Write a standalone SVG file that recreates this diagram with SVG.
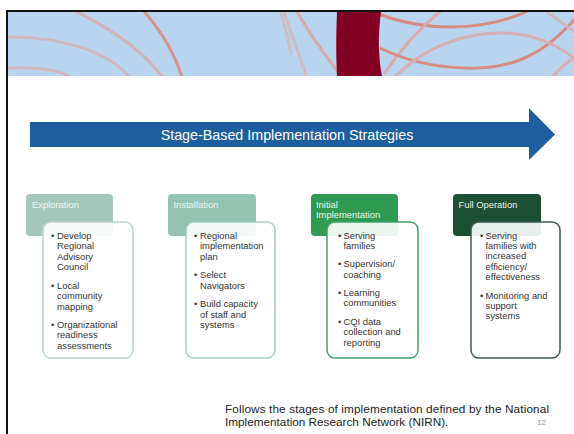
<svg xmlns="http://www.w3.org/2000/svg" width="574" height="434" viewBox="0 0 574 434">
<style>
.hdr{font-family:"Liberation Sans",Arial,sans-serif;font-size:9.4px;fill:#eef5f1}
.body{font-family:"Liberation Sans",Arial,sans-serif;font-size:9.4px;fill:#333}
.box{fill:#fff;fill-opacity:0.9;stroke-width:1.5}
.arc{fill:none;stroke-width:3}
.foot{font-family:"Liberation Sans",Arial,sans-serif;font-size:11.75px;fill:#222}
</style>
<rect width="574" height="434" fill="#fff"/>
<g id="banner">
<rect x="8" y="12" width="566" height="64" fill="#b9d4ee"/>
<clipPath id="bc"><rect x="8" y="12" width="566" height="64"/></clipPath>
<g clip-path="url(#bc)">
<path class="arc" stroke="#cdb8c0" d="M8,37 C60,36 110,52 130,78"/>
<path class="arc" stroke="#cdb8c0" d="M8,68 C40,67 60,70 72,78"/>
<path class="arc" stroke="#d0b2b8" d="M73,10 C110,28 145,52 163,78"/>
<path class="arc" stroke="#d4928e" d="M143,10 C160,30 175,52 182,78"/>
<path class="arc" stroke="#cdbcc4" d="M280,10 C286,30 290,45 291,55"/>
<path class="arc" stroke="#cdbcc4" d="M284,12 C292,35 300,58 307,78"/>
<path class="arc" stroke="#d6a8aa" d="M296,10 C310,35 325,55 338,72"/>
<path class="arc" stroke="#d88a80" d="M378,14 C420,30 480,34 530,10"/>
<path class="arc" stroke="#d8aaad" d="M384,74 C400,50 420,28 442,10"/>
<path class="arc" stroke="#d88a80" d="M380,48 C420,68 480,75 520,60 C545,50 560,35 576,18"/>
<path class="arc" stroke="#d6b0b4" d="M394,78 C420,50 460,33 500,33 C530,33 555,42 576,60"/>
<path class="arc" stroke="#cdb8c0" d="M545,10 C555,18 565,25 576,33"/>
<path class="arc" stroke="#d6b0b4" d="M551,78 C558,70 566,63 576,56"/>
</g>
<path d="M337,12 L381,12 C378,35 378,55 382,76 L337,76 C336,55 336,35 337,12 Z" fill="#820024"/>
</g>
<g id="frame" fill="#111">
<rect x="6" y="10" width="568" height="2"/>
<rect x="6" y="10" width="2" height="424"/>
</g>
<g id="arrow">
<path d="M30,122 L529,122 L529,108 L555,134.5 L529,160 L529,147 L30,147 Z" fill="#1c5e9e"/>
<text x="287" y="140" text-anchor="middle" font-family="'Liberation Sans',Arial,sans-serif" font-size="14.3" fill="#fff">Stage-Based Implementation Strategies</text>
</g>
<g id="exploration">
<rect x="26" y="194" width="87" height="42" rx="4" fill="#a4c7bc"/>
<text class="hdr" x="32" y="207.5">Exploration</text>
<rect class="box" x="43" y="222" width="90" height="136" rx="8" stroke="#b9d5cb"/>
<text class="body"><tspan x="51" y="238.7">•</tspan><tspan x="57" y="238.7">Develop</tspan><tspan x="57" y="249.3">Regional</tspan><tspan x="57" y="259.7">Advisory</tspan><tspan x="57" y="270">Council</tspan><tspan x="51" y="289">•</tspan><tspan x="57" y="289">Local</tspan><tspan x="57" y="299.3">community</tspan><tspan x="57" y="309.5">mapping</tspan><tspan x="51" y="328">•</tspan><tspan x="57" y="328">Organizational</tspan><tspan x="57" y="338.3">readiness</tspan><tspan x="57" y="348.5">assessments</tspan></text>
</g>
<g id="installation">
<rect x="168" y="194" width="88" height="42" rx="4" fill="#93c2b1"/>
<text class="hdr" x="173.5" y="207.5">Installation</text>
<rect class="box" x="186" y="222" width="89" height="136" rx="8" stroke="#a6cbbd"/>
<text class="body"><tspan x="194" y="238.7">•</tspan><tspan x="200" y="238.7">Regional</tspan><tspan x="200" y="249.3">implementation</tspan><tspan x="200" y="259.5">plan</tspan><tspan x="194" y="278.3">•</tspan><tspan x="200" y="278.3">Select</tspan><tspan x="200" y="289">Navigators</tspan><tspan x="194" y="307.3">•</tspan><tspan x="200" y="307.3">Build capacity</tspan><tspan x="200" y="317.7">of staff and</tspan><tspan x="200" y="327.9">systems</tspan></text>
</g>
<g id="initial">
<rect x="311" y="194" width="87" height="42" rx="4" fill="#2f9a52"/>
<text class="hdr" x="316" y="207.5">Initial</text>
<text class="hdr" x="316" y="217.7">Implementation</text>
<rect class="box" x="327" y="222" width="91" height="136" rx="8" stroke="#3da262"/>
<text class="body"><tspan x="338" y="238.7">•</tspan><tspan x="343.5" y="238.7">Serving</tspan><tspan x="343.5" y="248.9">families</tspan><tspan x="338" y="267.3">•</tspan><tspan x="343.5" y="267.3">Supervision/</tspan><tspan x="343.5" y="277.5">coaching</tspan><tspan x="338" y="296">•</tspan><tspan x="343.5" y="296">Learning</tspan><tspan x="343.5" y="306.3">communities</tspan><tspan x="338" y="325">•</tspan><tspan x="343.5" y="325">CQI data</tspan><tspan x="343.5" y="335.3">collection and</tspan><tspan x="343.5" y="345.5">reporting</tspan></text>
</g>
<g id="full-operation">
<rect x="453" y="194" width="88" height="42" rx="4" fill="#1c4f33"/>
<text class="hdr" x="458.5" y="207.5">Full Operation</text>
<rect class="box" x="471" y="222" width="89" height="136" rx="8" stroke="#3e5c4b"/>
<text class="body"><tspan x="480" y="238.7">•</tspan><tspan x="485.5" y="238.7">Serving</tspan><tspan x="485.5" y="249">families with</tspan><tspan x="485.5" y="259.3">increased</tspan><tspan x="485.5" y="269.7">efficiency/</tspan><tspan x="485.5" y="280">effectiveness</tspan><tspan x="480" y="299">•</tspan><tspan x="485.5" y="299">Monitoring and</tspan><tspan x="485.5" y="309.2">support</tspan><tspan x="485.5" y="319.4">systems</tspan></text>
</g>
<g id="connectors"></g>
<g id="footer">
<text class="foot" x="225" y="413" textLength="324" lengthAdjust="spacing">Follows the stages of implementation defined by the National</text>
<text class="foot" x="225" y="425.5">Implementation Research Network (NIRN).</text>
<text x="546" y="425" text-anchor="end" font-family="'Liberation Sans',Arial,sans-serif" font-size="8" fill="#999">12</text>
</g>
</svg>
